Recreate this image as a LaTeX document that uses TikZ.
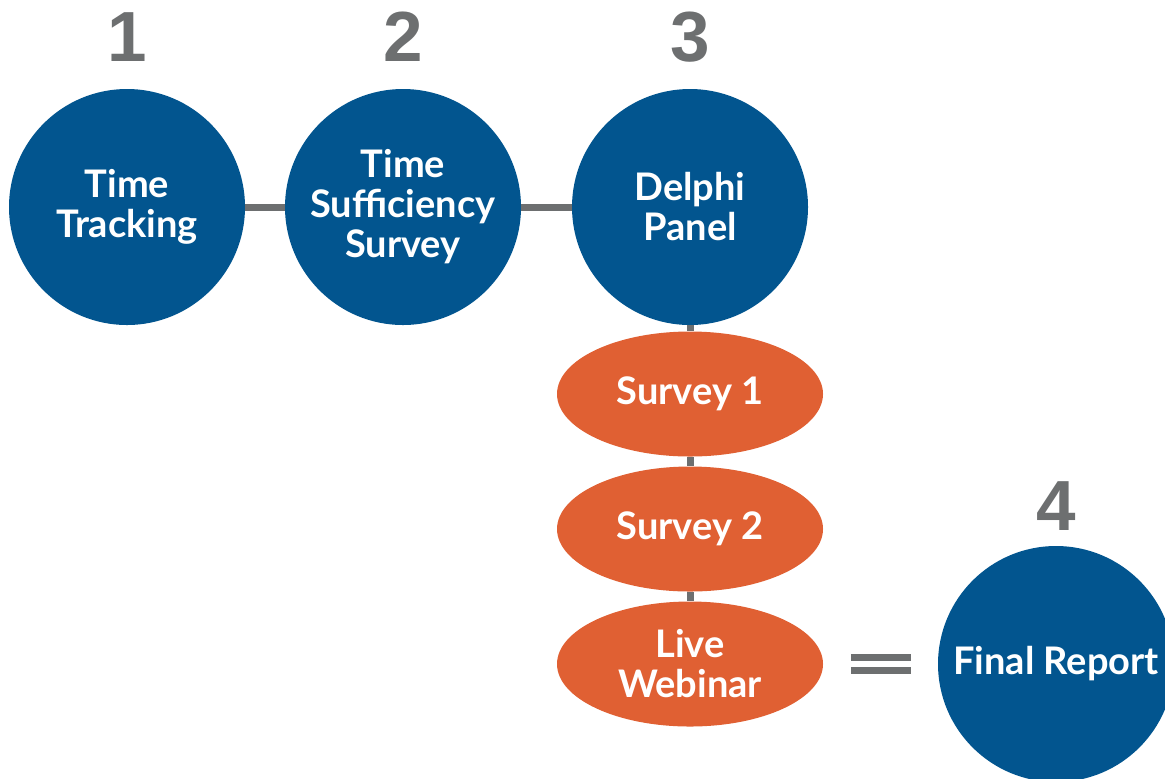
\documentclass[tikz,border=0pt]{standalone}
\usepackage{fontspec}
\setmainfont{Lato}
\newfontfamily\numfont{Liberation Sans}
\usepackage{tikz}
\usetikzlibrary{shapes.geometric}
\definecolor{stageblue}{HTML}{02558F}
\definecolor{surveyorange}{HTML}{E06033}
\definecolor{linkgray}{HTML}{6D6F70}
\tikzstyle{stage} = [circle, minimum size=118pt, inner sep=0pt, fill=stageblue, text=white, align=center, font=\fontsize{19}{20}\selectfont\bfseries]
\tikzstyle{survey} = [ellipse, minimum width=133pt, minimum height=62.5pt, inner sep=0pt, fill=surveyorange, text=white, align=center, font=\fontsize{19}{20}\selectfont\bfseries]
\tikzstyle{num} = [inner sep=0pt, text=linkgray, font=\numfont\fontsize{35.5}{38}\selectfont\bfseries]
\tikzstyle{link} = [draw=linkgray, line width=3.5pt]

\begin{document}
\begin{tikzpicture}[x=0.5pt, y=-0.5pt, node distance=67.5pt]
	\clip (0,0) rectangle (1165,778);
	\node(stage1) [stage] at (127,207) {Time\\Tracking};
	\node(stage2) [stage, right of=stage1, xshift=70.5pt] {Time\\Sufficiency\\Survey};
	\node(stage3) [stage, right of=stage2, xshift=76pt] {Delphi\\Panel};
	%----------------------------------------------------%
	\node(sub1) [survey, below of=stage3, yshift=-26pt] {Survey 1};
	\node(sub2) [survey, below of=sub1] {Survey 2};
	\node(sub3) [survey, below of=sub2] {Live\\Webinar};
	\node(stage4) [stage, right of=sub3, xshift=115.5pt] {Final Report};
	%----------------------------------------------------%
	\node(num1) [num, above of=stage1, yshift=17.5pt] {1};
	\node(num2) [num, above of=stage2, yshift=17.5pt] {2};
	\node(num3) [num, above of=stage3, yshift=17.5pt] {3};
	\node(num4) [num, above of=stage4, yshift=11.5pt] {4};

	\draw[link] (stage1) -- (stage2);
	\draw[link] (stage2) -- (stage3);
	\draw[link] (stage3) -- (sub1);
	\draw[link] (sub1) -- (sub2);
	\draw[link] (sub2) -- (sub3);
	% equal sign
	\draw[link, shorten <=13.75pt, shorten >=13.5pt] ([yshift=3.4pt]sub3.east) -- ([yshift=3.4pt]stage4.west);
	\draw[link, shorten <=13.75pt, shorten >=13.5pt] ([yshift=-3.4pt]sub3.east) -- ([yshift=-3.4pt]stage4.west);
\end{tikzpicture}
\end{document}
